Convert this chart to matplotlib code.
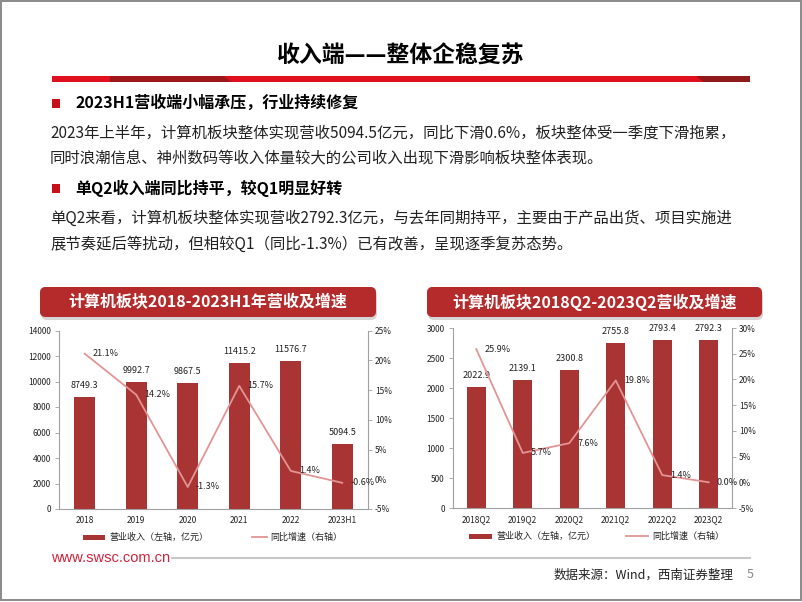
import numpy as np
import matplotlib
matplotlib.use("Agg")
import matplotlib.pyplot as plt
from matplotlib.patches import Rectangle, Polygon, FancyBboxPatch
from matplotlib.colors import LinearSegmentedColormap

plt.rcParams["font.family"] = ["Noto Sans CJK SC", "DejaVu Sans"]

# ---- data -------------------------------------------------------------------
years = ["2018", "2019", "2020", "2021", "2022", "2023H1"]
rev_year = [8749.3, 9992.7, 9867.5, 11415.2, 11576.7, 5094.5]
yoy_year = [21.1, 14.2, -1.3, 15.7, 1.4, -0.6]

quarters = ["2018Q2", "2019Q2", "2020Q2", "2021Q2", "2022Q2", "2023Q2"]
rev_q2 = [2022.9, 2139.1, 2300.8, 2755.8, 2793.4, 2792.3]
yoy_q2 = [25.9, 5.7, 7.6, 19.8, 1.4, 0.0]

TITLE = "收入端——整体企稳复苏"
B1 = "2023H1营收端小幅承压，行业持续修复"
P1 = ["2023年上半年，计算机板块整体实现营收5094.5亿元，同比下滑0.6%，板块整体受一季度下滑拖累，",
      "同时浪潮信息、神州数码等收入体量较大的公司收入出现下滑影响板块整体表现。"]
B2 = "单Q2收入端同比持平，较Q1明显好转"
P2 = ["单Q2来看，计算机板块整体实现营收2792.3亿元，与去年同期持平，主要由于产品出货、项目实施进",
      "展节奏延后等扰动，但相较Q1（同比-1.3%）已有改善，呈现逐季复苏态势。"]
CT1 = "计算机板块2018-2023H1年营收及增速"
CT2 = "计算机板块2018Q2-2023Q2营收及增速"
LEG_BAR = "营业收入（左轴，亿元）"
LEG_LINE = "同比增速（右轴）"

RED = "#E0101E"
DARK = "#8E1A1A"
BAR_C = "#A93434"
LINE_C = "#E39494"
AX_C = "#A0A0A0"
TXT = "#222222"

W, H = 802, 602
fig = plt.figure(figsize=(W / 100, H / 100), dpi=100)
bg = fig.add_axes([0, 0, 1, 1])
bg.set_xlim(0, W); bg.set_ylim(H, 0); bg.axis("off")

# page frame
bg.add_patch(Rectangle((0.8, 0.8), W - 1.6, H - 3, fill=False, ec="#8a8a8a", lw=1.4))

# title + red rule
bg.text(401, 56, TITLE, ha="center", va="center", fontsize=16.5, fontweight="bold", color="black")
bg.add_patch(Rectangle((52, 76), 698, 6, color=RED, lw=0))
bg.add_patch(Polygon([(110, 76), (224, 76), (232, 82), (110, 82)], color=DARK, lw=0, alpha=0.8))
bg.add_patch(Polygon([(696, 76), (750, 76), (750, 82), (704, 82)], color=DARK, lw=0))

# bullets and paragraphs
for yb, head, para in ((103, B1, P1), (188, B2, P2)):
    bg.add_patch(Rectangle((52, yb - 4.5), 8, 9, color="#C8101A", lw=0))
    bg.text(75, yb, head, ha="left", va="center", fontsize=11.5, fontweight="bold", color="black")
    for k, line in enumerate(para):
        bg.text(50, yb + 30 + 26 * k, line, ha="left", va="center", fontsize=11.1, color=TXT)

# chart title boxes
cmap = LinearSegmentedColormap.from_list("hdr", ["#D5504C", "#B8292A", "#9C1C1D"])
grad = np.linspace(0, 1, 64).reshape(-1, 1)
for x0, x1, txt in ((40, 376, CT1), (427, 762, CT2)):
    shadow = FancyBboxPatch((x0 + 1, 290), x1 - x0, 30, boxstyle="round,pad=0,rounding_size=6",
                            fc="#b9b9b9", ec="none", alpha=0.6)
    bg.add_patch(shadow)
    box = FancyBboxPatch((x0, 287), x1 - x0, 30, boxstyle="round,pad=0,rounding_size=6",
                         fc="#B52A2A", ec="none")
    bg.add_patch(box)
    im = bg.imshow(grad, extent=[x0, x1, 317, 287], cmap=cmap, aspect="auto", origin="upper")
    im.set_clip_path(box)
    bg.text((x0 + x1) / 2, 302, txt, ha="center", va="center", fontsize=11.5,
            fontweight="bold", color="white")
bg.set_xlim(0, W); bg.set_ylim(H, 0)


def draw_chart(px, cats, rev, yoy, lmax, lstep, rlim, leg):
    l, r, t, b = px
    ax = fig.add_axes([l / W, (H - b) / H, (r - l) / W, (b - t) / H])
    ax.patch.set_alpha(0)
    x = np.arange(len(cats))
    ax.bar(x, rev, 0.4, color=BAR_C, zorder=2)
    ax.set_xlim(-0.5, len(cats) - 0.5)
    ax.set_ylim(0, lmax)
    ax.set_yticks(np.arange(0, lmax + 1, lstep))
    ax.set_xticks(x)
    ax.set_xticklabels(cats)
    ax.tick_params(axis="x", length=0, pad=5, labelsize=6, labelcolor=TXT)
    ax.tick_params(axis="y", direction="out", length=3, width=0.6, color=AX_C, pad=3,
                   labelsize=6, labelcolor=TXT)
    for s in ("top", "right"):
        ax.spines[s].set_visible(False)
    for s in ("left", "bottom"):
        ax.spines[s].set_color(AX_C)
        ax.spines[s].set_linewidth(0.8)
    for i, v in enumerate(rev):
        ax.annotate(f"{v:.1f}", (i, v), xytext=(0, 7), textcoords="offset pixels",
                    ha="center", va="bottom", fontsize=6.5, color=TXT)

    ax2 = ax.twinx()
    ax2.plot(x, yoy, color=LINE_C, lw=1.3, zorder=3)
    ax2.set_ylim(*rlim)
    rt = np.arange(rlim[0], rlim[1] + 1, 5)
    ax2.set_yticks(rt)
    ax2.set_yticklabels([f"{v}%" for v in rt])
    ax2.tick_params(axis="y", direction="out", length=3, width=0.6, color=AX_C, pad=2,
                    labelsize=6, labelcolor=TXT)
    for s in ("top", "left", "bottom"):
        ax2.spines[s].set_visible(False)
    ax2.spines["right"].set_color(AX_C)
    ax2.spines["right"].set_linewidth(0.8)
    for i, v in enumerate(yoy):
        ax2.annotate(f"{v:.1f}%", (i, v), xytext=(8, 0), textcoords="offset pixels",
                     ha="left", va="center", fontsize=6.5, color=TXT)

    # legend
    (bx0, bx1, tx1, lx0, lx1, tx2, ly) = leg
    bg.add_patch(Rectangle((bx0, ly - 2.5), bx1 - bx0, 5, color=BAR_C, lw=0))
    bg.text(tx1, ly, LEG_BAR, ha="left", va="center", fontsize=6.5, color=TXT)
    bg.plot([lx0, lx1], [ly, ly], color=LINE_C, lw=1.3)
    bg.text(tx2, ly, LEG_LINE, ha="left", va="center", fontsize=6.5, color=TXT)


draw_chart((59, 368, 330.5, 509), years, rev_year, yoy_year, 14000, 2000, (-5, 25),
           (83, 105, 109, 252, 267, 270, 537))
draw_chart((453, 732, 328, 508), quarters, rev_q2, yoy_q2, 3000, 500, (-5, 30),
           (469, 492, 496, 626, 648, 652, 536))
bg.set_xlim(0, W); bg.set_ylim(H, 0)

# footer
bg.text(51, 558, "www.swsc.com.cn", ha="left", va="center", fontsize=10.5,
        color="#D0233A", family=["Liberation Sans", "DejaVu Sans"])
bg.plot([172, 750], [558, 558], color="#c8c8c8", lw=1.5)
bg.text(733, 575, "数据来源：Wind，西南证券整理", ha="right", va="center", fontsize=9,
        style="italic", color=TXT)
bg.text(750, 575, "5", ha="center", va="center", fontsize=9, color="#888888")

fig.savefig("out.png", dpi=100)
